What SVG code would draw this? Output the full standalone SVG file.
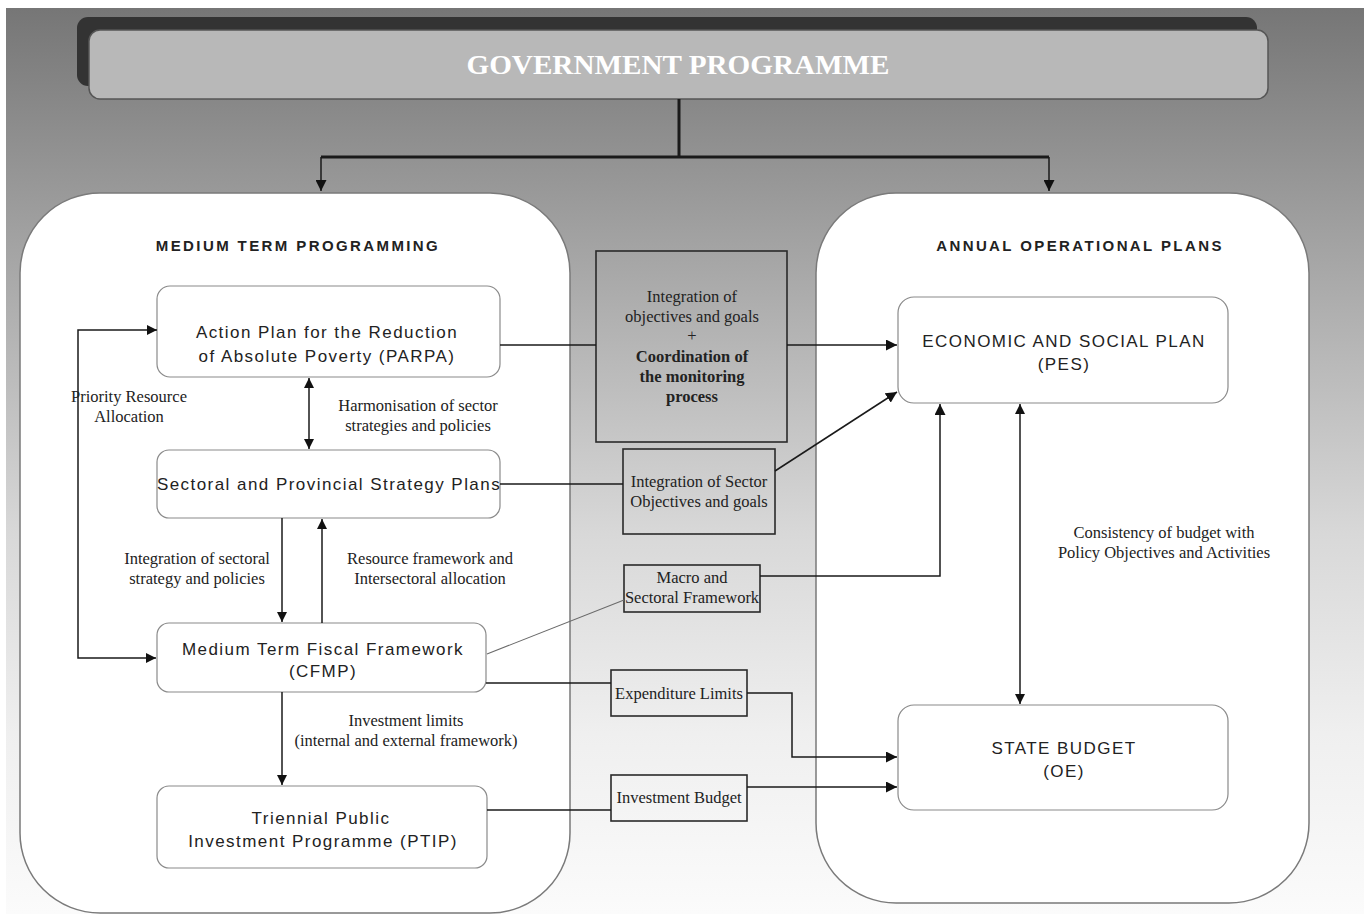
<svg xmlns="http://www.w3.org/2000/svg" width="1364" height="914" viewBox="0 0 1364 914">
<defs>
<linearGradient id="bg" x1="0" y1="0" x2="0" y2="1">
<stop offset="0" stop-color="#767676"/>
<stop offset="0.18" stop-color="#959595"/>
<stop offset="0.35" stop-color="#b2b2b2"/>
<stop offset="0.58" stop-color="#d8d8d8"/>
<stop offset="0.8" stop-color="#efefef"/>
<stop offset="1" stop-color="#fbfbfb"/>
</linearGradient>
<marker id="ah" viewBox="0 0 10 10" refX="10" refY="5" markerWidth="10" markerHeight="10" markerUnits="userSpaceOnUse" orient="auto-start-reverse">
<path d="M0,0 L10,5 L0,10 z" fill="#111"/>
</marker>
<marker id="ahb" viewBox="0 0 10 10" refX="10" refY="5" markerWidth="11" markerHeight="11" markerUnits="userSpaceOnUse" orient="auto">
<path d="M0,0 L10,5 L0,10 z" fill="#111"/>
</marker>
</defs>
<style>
.panel{fill:#fff;stroke:#7a7a7a;stroke-width:1.5}
.node{fill:#fff;stroke:#8a8a8a;stroke-width:1.2}
.box{fill:none;stroke:#2a2a2a;stroke-width:1.6}
.sans{font-family:"Liberation Sans",Arial,sans-serif;font-size:17px;fill:#222;text-anchor:middle;letter-spacing:1.45px}
.head{font-family:"Liberation Sans",Arial,sans-serif;font-size:15px;font-weight:bold;fill:#222;text-anchor:middle;letter-spacing:2.4px}
.serif{font-family:"Liberation Serif","Times New Roman",serif;font-size:16.5px;fill:#222;text-anchor:middle}
.b{font-weight:bold}
.ln{fill:none;stroke:#1a1a1a;stroke-width:1.5}
</style>
<rect x="6" y="8" width="1358" height="906" fill="url(#bg)"/>

<g id="title">
<rect x="77" y="17" width="1180" height="69" rx="11" fill="#333"/>
<rect x="89" y="30" width="1179" height="69" rx="11" fill="#b8b8b8" stroke="#555" stroke-width="1.5"/>
<text x="678" y="74" font-family="'Liberation Serif','Times New Roman',serif" font-size="27" font-weight="bold" fill="#fff" text-anchor="middle" textLength="423" lengthAdjust="spacingAndGlyphs">GOVERNMENT PROGRAMME</text>
</g>

<g id="medium-term-programming">
<rect class="panel" x="20" y="193" width="550" height="720" rx="80"/>
<text class="head" x="298" y="251">MEDIUM TERM PROGRAMMING</text>
</g>
<g id="annual-operational-plans">
<rect class="panel" x="816" y="193" width="493" height="710" rx="80"/>
<text class="head" x="1080" y="251">ANNUAL OPERATIONAL PLANS</text>
</g>

<g id="parpa">
<rect class="node" x="157" y="286" width="343" height="91" rx="13"/>
<text class="sans" x="327" y="338">Action Plan for the Reduction</text>
<text class="sans" x="327" y="362">of Absolute Poverty (PARPA)</text>
</g>
<g id="sectoral">
<rect class="node" x="157" y="450" width="343" height="68" rx="12"/>
<text class="sans" x="329" y="490">Sectoral and Provincial Strategy Plans</text>
</g>
<g id="cfmp">
<rect class="node" x="157" y="623" width="329" height="69" rx="12"/>
<text class="sans" x="323" y="655">Medium Term Fiscal Framework</text>
<text class="sans" x="323" y="677">(CFMP)</text>
</g>
<g id="ptip">
<rect class="node" x="157" y="786" width="330" height="82" rx="12"/>
<text class="sans" x="321" y="824">Triennial Public</text>
<text class="sans" x="323" y="847">Investment Programme (PTIP)</text>
</g>

<g id="pes">
<rect class="node" x="898" y="297" width="330" height="106" rx="16"/>
<text class="sans" x="1064" y="347">ECONOMIC AND SOCIAL PLAN</text>
<text class="sans" x="1064" y="370">(PES)</text>
</g>
<g id="state-budget">
<rect class="node" x="898" y="705" width="330" height="105" rx="16"/>
<text class="sans" x="1064" y="754">STATE BUDGET</text>
<text class="sans" x="1064" y="777">(OE)</text>
</g>

<g id="integration-coordination">
<rect class="box" x="596" y="251" width="191" height="191" fill="#000" fill-opacity="0.05"/>
<text class="serif" x="692" y="302">Integration of</text>
<text class="serif" x="692" y="322">objectives and goals</text>
<text class="serif" x="692" y="341">+</text>
<text class="serif b" x="692" y="362">Coordination of</text>
<text class="serif b" x="692" y="382">the monitoring</text>
<text class="serif b" x="692" y="402">process</text>
</g>
<g id="sector-objectives">
<rect class="box" x="623" y="449" width="152" height="85"/>
<text class="serif" x="699" y="487">Integration of Sector</text>
<text class="serif" x="699" y="507">Objectives and goals</text>
</g>
<g id="macro-framework">
<rect class="box" x="624" y="565" width="136" height="47"/>
<text class="serif" x="692" y="583">Macro and</text>
<text class="serif" x="692" y="603">Sectoral Framework</text>
</g>
<g id="expenditure-limits">
<rect class="box" x="611" y="670" width="136" height="46"/>
<text class="serif" x="679" y="699">Expenditure Limits</text>
</g>
<g id="investment-budget">
<rect class="box" x="611" y="775" width="136" height="46"/>
<text class="serif" x="679" y="803">Investment Budget</text>
</g>

<g id="connectors">
<path d="M679,99 V157 M321,157 H1049" stroke="#1a1a1a" stroke-width="3" fill="none"/>
<path class="ln" d="M321,157 V191" stroke-width="2" marker-end="url(#ahb)"/>
<path class="ln" d="M1049,157 V191" stroke-width="2" marker-end="url(#ahb)"/>

<path class="ln" d="M500,345 H596"/>
<path class="ln" d="M787,345 H897" marker-end="url(#ahb)"/>
<path class="ln" d="M500,484 H623"/>
<path class="ln" d="M775,471 L897,392" marker-end="url(#ahb)"/>
<path d="M487,654 L624,600" stroke="#6a6a6a" stroke-width="1.1" fill="none"/>
<path class="ln" d="M760,576 H940 V404" marker-end="url(#ahb)"/>
<path class="ln" d="M486,683 H611"/>
<path class="ln" d="M747,693 H792 V757 H897" marker-end="url(#ahb)"/>
<path class="ln" d="M487,810 H611"/>
<path class="ln" d="M747,787 H897" marker-end="url(#ahb)"/>
<path class="ln" d="M1020,404 V704" marker-start="url(#ah)" marker-end="url(#ah)"/>

<path class="ln" d="M157,330 H78 V658 H156" marker-start="url(#ah)" marker-end="url(#ah)"/>
<path class="ln" d="M309,378 V449" marker-start="url(#ah)" marker-end="url(#ah)"/>
<path class="ln" d="M282,518 V622" marker-end="url(#ah)"/>
<path class="ln" d="M322,623 V519" marker-end="url(#ah)"/>
<path class="ln" d="M282,692 V785" marker-end="url(#ah)"/>
</g>

<g id="labels">
<text class="serif" x="129" y="402">Priority Resource</text>
<text class="serif" x="129" y="422">Allocation</text>
<text class="serif" x="418" y="411">Harmonisation of sector</text>
<text class="serif" x="418" y="431">strategies and policies</text>
<text class="serif" x="197" y="564">Integration of sectoral</text>
<text class="serif" x="197" y="584">strategy and policies</text>
<text class="serif" x="430" y="564">Resource framework and</text>
<text class="serif" x="430" y="584">Intersectoral allocation</text>
<text class="serif" x="406" y="726">Investment limits</text>
<text class="serif" x="406" y="746">(internal and external framework)</text>
<text class="serif" x="1164" y="538">Consistency of budget with</text>
<text class="serif" x="1164" y="558">Policy Objectives and Activities</text>
</g>
</svg>
